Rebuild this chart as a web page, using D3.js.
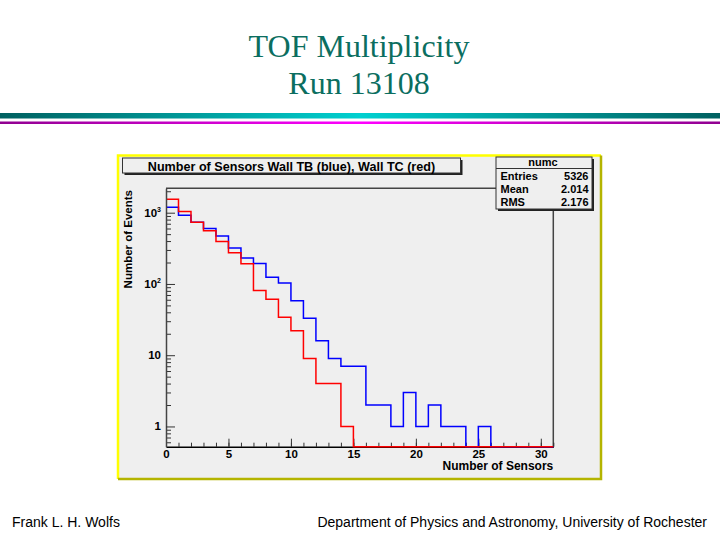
<!DOCTYPE html>
<html>
  <head>
    <title>TOF Multiplicity</title>
    <script type="text/javascript" src="https://cdn.jsdelivr.net/npm/d3@7/dist/d3.min.js"></script>
    <style type="text/css">
      html, body {
        margin: 0;
        padding: 0;
        background: #fff;
      }
      #chart {
        width: 720px;
        height: 540px;
      }
      .lbl {
        font-family: "Liberation Sans", Arial, sans-serif;
        font-weight: bold;
        font-size: 11px;
      }
    </style>
  </head>
  <body>
    <div id="chart"></div>

    <script type="text/javascript">

    // bin contents, one bin per sensor count (0..30)
    var wallTB = [1195, 922, 735, 598, 472, 320, 232, 193, 124, 103, 58, 33, 16, 9, 7, 7,
                  2, 2, 1, 3, 1, 2, 1, 1, 0, 1, 0, 0, 0, 0, 0];
    var wallTC = [1549, 1036, 735, 560, 393, 275, 192, 81, 61, 34, 22, 9, 4, 4, 1, 0,
                  0, 0, 0, 0, 0, 0, 0, 0, 0, 0, 0, 0, 0, 0, 0];

    var xMajorTicks = [0, 5, 10, 15, 20, 25, 30];
    var yMajorTicks = [1, 10, 100, 1000];
    var yTickLabels = [['1', ''], ['10', ''], ['10', '2'], ['10', '3']];

    var statsRows = [['Entries', '5326'], ['Mean', '2.014'], ['RMS', '2.176']];

    var svg = d3.select('#chart').append('svg')
        .attr('width', 720)
        .attr('height', 540);

    // slide heading
    var head = svg.append('text')
        .attr('text-anchor', 'middle')
        .attr('font-family', '"Liberation Serif", "Times New Roman", serif')
        .attr('font-size', 32)
        .attr('fill', '#0b6e60');
    head.append('tspan').attr('x', 359).attr('y', 57).text('TOF Multiplicity');
    head.append('tspan').attr('x', 359).attr('y', 94).text('Run 13108');

    // separator bars
    var defs = svg.append('defs');
    var g1 = defs.append('linearGradient').attr('id', 'tealbar');
    g1.append('stop').attr('offset', '0%').attr('stop-color', '#006060');
    g1.append('stop').attr('offset', '50%').attr('stop-color', '#00d0d0');
    g1.append('stop').attr('offset', '100%').attr('stop-color', '#006060');
    var g2 = defs.append('linearGradient').attr('id', 'magbar');
    g2.append('stop').attr('offset', '0%').attr('stop-color', '#900090');
    g2.append('stop').attr('offset', '50%').attr('stop-color', '#ff00ff');
    g2.append('stop').attr('offset', '100%').attr('stop-color', '#900090');

    svg.append('rect').attr('x', 0).attr('y', 113).attr('width', 720).attr('height', 5.5)
        .attr('fill', 'url(#tealbar)');
    svg.append('rect').attr('x', 0).attr('y', 121.5).attr('width', 720).attr('height', 2.5)
        .attr('fill', 'url(#magbar)');

    // ROOT canvas
    var cx0 = 118, cy0 = 155.5, cx1 = 601, cy1 = 479;
    svg.append('rect').attr('x', cx0).attr('y', cy0).attr('width', cx1 - cx0).attr('height', cy1 - cy0)
        .attr('fill', '#efefef');
    svg.append('path').attr('d', 'M' + cx0 + ',' + cy1 + 'V' + cy0 + 'H' + cx1)
        .attr('fill', 'none').attr('stroke', '#ffff00').attr('stroke-width', 2.5);
    svg.append('path').attr('d', 'M' + cx1 + ',' + cy0 + 'V' + cy1 + 'H' + cx0)
        .attr('fill', 'none').attr('stroke', '#b4b400').attr('stroke-width', 2.5);

    var x = d3.scaleLinear().domain([0, 31]).range([166, 553.3]);
    var y = d3.scaleLog().domain([0.52, 2200]).range([446.7, 188.3]);
    var yBottom = y.range()[0];

    // frame (top and right)
    svg.append('path')
        .attr('d', 'M' + x(0) + ',' + y.range()[1] + 'H' + x(31) + 'V' + yBottom)
        .attr('fill', 'none').attr('stroke', '#444').attr('stroke-width', 1.5);

    // x axis
    svg.append('g')
        .attr('transform', 'translate(0,' + yBottom + ')')
        .call(d3.axisBottom(x).tickValues(d3.range(0, 32)).tickSizeInner(-4).tickSizeOuter(0).tickFormat(''))
        .call(function(g) { g.select('.domain').remove(); g.selectAll('line').attr('stroke', '#333'); });
    svg.append('g')
        .attr('class', 'lbl')
        .attr('transform', 'translate(0,' + yBottom + ')')
        .call(d3.axisBottom(x).tickValues(xMajorTicks).tickSizeInner(-8).tickSizeOuter(0).tickPadding(3))
        .call(function(g) {
          g.select('.domain').attr('stroke', '#000').attr('stroke-width', 1.5);
          g.selectAll('line').attr('stroke', '#333');
          g.selectAll('text').attr('font-family', null).attr('fill', '#000')
              .style('font-size', '11.5px');
        });

    svg.append('text').attr('class', 'lbl')
        .attr('x', x(31)).attr('y', 470)
        .style('font-size', '12px')
        .attr('text-anchor', 'end')
        .text('Number of Sensors');

    // y axis
    var yMinor = [];
    [0.1, 1, 10, 100, 1000].forEach(function(d) {
      for (var k = 2; k <= 9; k++) {
        var v = d * k;
        if (v >= y.domain()[0] && v <= y.domain()[1]) yMinor.push(v);
      }
    });
    svg.append('g')
        .attr('transform', 'translate(' + x(0) + ',0)')
        .call(d3.axisLeft(y).tickValues(yMinor).tickSizeInner(-5).tickSizeOuter(0).tickFormat(''))
        .call(function(g) { g.select('.domain').remove(); g.selectAll('line').attr('stroke', '#333'); });

    // histograms, drawn over the x axis line like ROOT does
    function stepPath(vals) {
      var p = d3.path();
      vals.forEach(function(v, i) {
        var yy = v > 0 ? y(v) : yBottom;
        if (i === 0) p.moveTo(x(i), yy); else p.lineTo(x(i), yy);
        p.lineTo(x(i + 1), yy);
      });
      p.lineTo(x(vals.length), yBottom);
      return p.toString();
    }

    svg.append('path').attr('d', stepPath(wallTB))
        .attr('fill', 'none').attr('stroke', '#0000ff').attr('stroke-width', 1.5);
    svg.append('path').attr('d', stepPath(wallTC))
        .attr('fill', 'none').attr('stroke', '#ff0000').attr('stroke-width', 1.5);

    svg.append('g')
        .attr('transform', 'translate(' + x(0) + ',0)')
        .call(d3.axisLeft(y).tickValues(yMajorTicks).tickSizeInner(-9).tickSizeOuter(0).tickFormat(''))
        .call(function(g) {
          g.select('.domain').attr('stroke', '#444').attr('stroke-width', 1.5);
          g.selectAll('line').attr('stroke', '#333');
        });

    yMajorTicks.forEach(function(v, i) {
      var t = svg.append('text').attr('class', 'lbl')
          .attr('x', 161).attr('y', y(v) + 4)
          .style('font-size', '11.5px')
          .attr('text-anchor', 'end');
      t.append('tspan').text(yTickLabels[i][0]);
      if (yTickLabels[i][1]) {
        t.append('tspan').style('font-size', '7px').attr('dy', -5).text(yTickLabels[i][1]);
      }
    });

    svg.append('text').attr('class', 'lbl')
        .attr('transform', 'translate(131.5,190) rotate(-90)')
        .style('font-size', '11.5px')
        .attr('text-anchor', 'end')
        .text('Number of Events');

    // histogram title box
    function shadowBox(x0, y0, w, h) {
      svg.append('rect').attr('x', x0 + 2).attr('y', y0 + 2).attr('width', w).attr('height', h)
          .attr('fill', '#222');
      svg.append('rect').attr('x', x0).attr('y', y0).attr('width', w).attr('height', h)
          .attr('fill', '#efefef').attr('stroke', '#333').attr('stroke-width', 1);
    }

    shadowBox(122.5, 158, 338, 15);
    svg.append('text').attr('class', 'lbl')
        .attr('x', 291.5).attr('y', 170.5)
        .style('font-size', '12.6px')
        .attr('text-anchor', 'middle')
        .text('Number of Sensors Wall TB (blue), Wall TC (red)');

    // stats box
    shadowBox(496, 157, 96, 52);
    svg.append('line').attr('x1', 496).attr('x2', 592).attr('y1', 168.5).attr('y2', 168.5)
        .attr('stroke', '#333');
    svg.append('text').attr('class', 'lbl')
        .attr('x', 543).attr('y', 166)
        .attr('text-anchor', 'middle')
        .text('numc');
    statsRows.forEach(function(r, i) {
      var yy = 179.5 + i * 13.3;
      svg.append('text').attr('class', 'lbl').attr('x', 500.5).attr('y', yy).text(r[0]);
      svg.append('text').attr('class', 'lbl').attr('x', 588.5).attr('y', yy)
          .attr('text-anchor', 'end').text(r[1]);
    });

    // footer
    svg.append('text')
        .attr('x', 12).attr('y', 527)
        .attr('font-family', '"Liberation Sans", Arial, sans-serif')
        .attr('font-size', 14)
        .text('Frank L. H. Wolfs');
    svg.append('text')
        .attr('x', 707).attr('y', 527)
        .attr('text-anchor', 'end')
        .attr('font-family', '"Liberation Sans", Arial, sans-serif')
        .attr('font-size', 14)
        .text('Department of Physics and Astronomy, University of Rochester');

    </script>
  </body>
</html>
